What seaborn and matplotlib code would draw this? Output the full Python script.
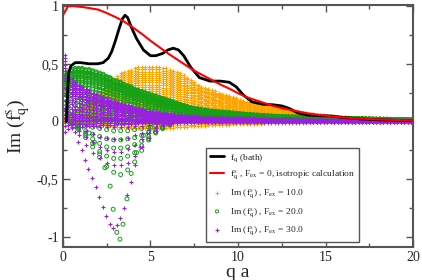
import matplotlib
matplotlib.use("Agg")
import matplotlib.pyplot as plt
from matplotlib.ticker import FuncFormatter, MultipleLocator
import numpy as np
import pandas as pd
import seaborn as sns

# black curve: f_q of the bath
bath_q = [0.2, 0.27, 0.33, 0.45, 0.7, 1.0, 1.5, 2.0, 2.3, 2.6, 2.8, 3.0, 3.2, 3.4, 3.55,
          3.7, 3.9, 4.2, 4.6, 5.0, 5.3, 5.7, 6.0, 6.3, 6.6, 6.9, 7.3, 7.8, 8.4, 9.0, 9.5,
          9.9, 10.3, 10.8, 11.4, 12.0, 12.5, 12.9, 13.4, 14.0, 14.6, 15.3, 16.0, 17.0,
          18.0, 19.0, 20.0]
bath_f = [0.0, 0.25, 0.42, 0.48, 0.51, 0.51, 0.50, 0.50, 0.51, 0.55, 0.61, 0.70, 0.80,
          0.89, 0.92, 0.90, 0.82, 0.72, 0.62, 0.57, 0.57, 0.59, 0.62, 0.635, 0.62, 0.57,
          0.47, 0.38, 0.35, 0.35, 0.34, 0.30, 0.23, 0.17, 0.15, 0.145, 0.135, 0.115, 0.075,
          0.055, 0.05, 0.048, 0.035, 0.022, 0.015, 0.01, 0.008]

# red curve: isotropic calculation, F_ex = 0
iso_q = [0.0, 0.15, 0.3, 0.6, 1.2, 2.0, 2.5, 3.0, 3.5, 4.0, 4.5, 5.0, 5.5, 6.0, 6.5, 7.0,
         7.5, 8.0, 8.5, 9.0, 9.5, 10.0, 10.5, 11.0, 11.5, 12.0, 12.5, 13.0, 13.5, 14.0,
         15.0, 16.0, 17.0, 18.0, 19.0, 20.0]
iso_f = [0.92, 0.96, 1.0, 1.0, 0.99, 0.97, 0.94, 0.905, 0.865, 0.815, 0.76, 0.70, 0.645,
         0.59, 0.54, 0.49, 0.44, 0.40, 0.36, 0.32, 0.285, 0.245, 0.21, 0.185, 0.16, 0.135,
         0.115, 0.10, 0.085, 0.07, 0.05, 0.035, 0.025, 0.018, 0.013, 0.01]

# upper edge of each column of points, columns at q = 0.1, 0.3, ..., 19.9
top_f10 = [0.04, 0.06, 0.08, 0.10, 0.12, 0.14, 0.16, 0.18, 0.20, 0.22,
           0.25, 0.27, 0.30, 0.33, 0.36, 0.39, 0.42, 0.43, 0.44, 0.45,
           0.46, 0.47, 0.47, 0.47, 0.47, 0.47, 0.47, 0.47, 0.46, 0.46,
           0.45, 0.44, 0.43, 0.42, 0.40, 0.38, 0.36, 0.34, 0.32, 0.30,
           0.29, 0.28, 0.27, 0.26, 0.25, 0.24, 0.23, 0.22, 0.21, 0.20,
           0.19, 0.18, 0.17, 0.165, 0.16, 0.15, 0.145, 0.14, 0.13, 0.125,
           0.12, 0.11, 0.105, 0.10, 0.095, 0.09, 0.085, 0.08, 0.075, 0.07,
           0.067, 0.064, 0.06, 0.057, 0.054, 0.05, 0.048, 0.045, 0.043, 0.04,
           0.038, 0.036, 0.034, 0.032, 0.03, 0.028, 0.026, 0.025, 0.024, 0.022,
           0.021, 0.02, 0.019, 0.018, 0.017, 0.016, 0.015, 0.014, 0.013, 0.012]
top_f20 = [0.40, 0.43, 0.45, 0.46, 0.46, 0.46, 0.45, 0.45, 0.44, 0.43,
           0.42, 0.41, 0.39, 0.38, 0.36, 0.35, 0.34, 0.32, 0.31, 0.30,
           0.28, 0.27, 0.26, 0.25, 0.24, 0.23, 0.22, 0.21, 0.20, 0.19,
           0.18, 0.17, 0.16, 0.15, 0.14, 0.13, 0.12, 0.115, 0.11, 0.105,
           0.10, 0.095, 0.09, 0.088, 0.085, 0.082, 0.08, 0.077, 0.074, 0.071,
           0.068, 0.065, 0.062, 0.06, 0.058, 0.056, 0.054, 0.052, 0.05, 0.048,
           0.046, 0.044, 0.043, 0.042, 0.041, 0.04, 0.039, 0.038, 0.037, 0.036,
           0.035, 0.034, 0.033, 0.032, 0.031, 0.03, 0.03, 0.029, 0.029, 0.028,
           0.027, 0.027, 0.026, 0.025, 0.025, 0.024, 0.023, 0.023, 0.022, 0.021,
           0.021, 0.02, 0.02, 0.019, 0.018, 0.018, 0.017, 0.016, 0.016, 0.015]
top_f30 = [0.58, 0.42, 0.37, 0.34, 0.32, 0.30, 0.28, 0.27, 0.25, 0.24,
           0.22, 0.21, 0.20, 0.19, 0.18, 0.17, 0.16, 0.15, 0.14, 0.13,
           0.12, 0.115, 0.11, 0.10, 0.095, 0.09, 0.085, 0.08, 0.075, 0.07,
           0.066, 0.062, 0.058, 0.055, 0.052, 0.05, 0.048, 0.046, 0.044, 0.042,
           0.04, 0.039, 0.038, 0.037, 0.036, 0.035, 0.034, 0.033, 0.032, 0.031,
           0.03, 0.03, 0.029, 0.028, 0.028, 0.027, 0.026, 0.026, 0.025, 0.025,
           0.024, 0.023, 0.023, 0.022, 0.022, 0.021, 0.021, 0.02, 0.02, 0.019,
           0.019, 0.018, 0.018, 0.017, 0.017, 0.016, 0.016, 0.015, 0.015, 0.015,
           0.014, 0.014, 0.014, 0.013, 0.013, 0.013, 0.012, 0.012, 0.012, 0.011,
           0.011, 0.011, 0.011, 0.01, 0.01, 0.01, 0.01, 0.01, 0.01, 0.01]

# share of the column top reached by the different force directions
frac_f10 = [-0.12, -0.08, -0.04, 0.0, 0.04, 0.08, 0.12, 0.16, 0.2, 0.24, 0.28, 0.32,
            0.36, 0.4, 0.44, 0.48, 0.52, 0.56, 0.6, 0.64, 0.68, 0.72, 0.76, 0.8, 0.84,
            0.88, 0.92, 0.96, 1.0]
frac_f20 = [0.0, 0.1, 0.2, 0.3, 0.4, 0.5, 0.58, 0.64, 0.7, 0.74, 0.78, 0.81, 0.84,
            0.87, 0.9, 0.93, 0.96, 0.98, 1.0]
frac_f30 = [-0.15, -0.07, 0.0, 0.05, 0.1, 0.15, 0.2, 0.3, 0.4, 0.5, 0.6, 0.65, 0.7,
            0.75, 0.8, 0.85, 0.9, 0.95, 1.0]

# negative branches
arc_q = [0.5, 0.9, 1.3, 1.7, 2.1, 2.5, 2.9, 3.3, 3.7, 4.1, 4.5, 4.9, 5.3, 5.7, 6.1]
g_arc1 = [-0.01, -0.02, -0.04, -0.05, -0.06, -0.07, -0.08, -0.08, -0.08, -0.07, -0.06, -0.05, -0.04, -0.03, -0.02]
g_arc2 = [-0.01, -0.04, -0.08, -0.11, -0.13, -0.15, -0.16, -0.16, -0.15, -0.14, -0.12, -0.09, -0.07, -0.05, -0.03]
g_arc3 = [-0.02, -0.05, -0.10, -0.15, -0.19, -0.22, -0.23, -0.23, -0.22, -0.20, -0.17, -0.13, -0.09, -0.06, -0.03]
g_arc4 = [-0.02, -0.06, -0.12, -0.19, -0.26, -0.30, -0.32, -0.32, -0.30, -0.27, -0.21, -0.15, -0.10, -0.06, -0.03]
g_arc5 = [-0.02, -0.07, -0.14, -0.22, -0.31, -0.39, -0.44, -0.46, -0.42, -0.35, -0.25, -0.16, -0.09, -0.05, -0.02]
p_arc1 = [-0.01, -0.02, -0.03, -0.04, -0.05, -0.05, -0.05, -0.05, -0.05, -0.04, -0.04, -0.03, -0.02, -0.02, -0.01]
p_arc2 = [-0.02, -0.05, -0.08, -0.11, -0.13, -0.14, -0.15, -0.15, -0.14, -0.12, -0.10, -0.07, -0.05, -0.03, -0.02]
p_arc3 = [-0.03, -0.08, -0.13, -0.18, -0.22, -0.25, -0.26, -0.26, -0.24, -0.20, -0.15, -0.10, -0.06, -0.03, -0.02]
p_arc4 = [-0.05, -0.12, -0.20, -0.27, -0.32, -0.36, -0.38, -0.38, -0.36, -0.30, -0.22, -0.14, -0.08, -0.04, -0.02]
g_deep_q = [1.5, 1.8, 2.1, 2.4, 2.7, 2.87, 3.08, 3.26, 3.43, 3.66, 3.9, 4.2, 4.6, 5.0]
g_deep_v = [-0.10, -0.18, -0.28, -0.40, -0.56, -0.76, -0.96, -1.02, -0.89, -0.67, -0.45, -0.27, -0.12, -0.05]
p_deep_q = [0.5, 0.69, 0.86, 1.09, 1.26, 1.43, 1.66, 1.9, 2.06, 2.29, 2.46, 2.69, 2.86,
            3.08, 3.26, 3.49, 3.66, 3.89, 4.1, 4.4, 4.8]
p_deep_v = [-0.03, -0.09, -0.18, -0.25, -0.33, -0.41, -0.49, -0.57, -0.65, -0.74, -0.82,
            -0.89, -0.92, -0.90, -0.84, -0.75, -0.64, -0.52, -0.38, -0.22, -0.10]

x_ticks = [0, 5, 10, 15, 20]
y_ticks = [-1, -0.5, 0, 0.5, 1]


def columns(top, fracs):
    q = 0.1 + 0.2 * np.arange(len(top))
    qq, ff = np.meshgrid(q, fracs)
    vals = ff * np.tile(top, (len(fracs), 1))
    return pd.DataFrame({"q": qq.ravel(), "im": vals.ravel()})


def branches(q, arcs, extra_q, extra_v):
    frames = [pd.DataFrame({"q": q, "im": a}) for a in arcs]
    frames.append(pd.DataFrame({"q": extra_q, "im": extra_v}))
    return pd.concat(frames, ignore_index=True)


def main() -> None:
    sns.set_style("ticks")
    plt.rcParams["font.family"] = ["Liberation Serif", "DejaVu Serif"]
    plt.rcParams["mathtext.fontset"] = "stix"

    df10 = columns(top_f10, frac_f10)
    df20 = pd.concat([columns(top_f20, frac_f20),
                      branches(arc_q, [g_arc1, g_arc2, g_arc3, g_arc4, g_arc5], g_deep_q, g_deep_v)],
                     ignore_index=True)
    df30 = pd.concat([columns(top_f30, frac_f30),
                      branches(arc_q, [p_arc1, p_arc2, p_arc3, p_arc4], p_deep_q, p_deep_v)],
                     ignore_index=True)

    fig = plt.figure(figsize=(4.22, 2.80), dpi=100)
    ax = fig.add_axes([0.149, 0.118, 0.830, 0.864])

    lab_bath = r"f$_{\mathrm{q}}$ (bath)"
    lab_iso = r"f$^{\mathrm{s}}_{\mathrm{q}}$ , F$_{\mathrm{ex}}$ = 0, isotropic calculation"
    lab = r"Im (f$^{\mathrm{s}}_{\mathrm{q}}$) , F$_{\mathrm{ex}}$ = "

    sns.lineplot(x=bath_q, y=bath_f, color="black", lw=2.0, label=lab_bath, ax=ax,
                 estimator=None, sort=False, zorder=6)
    sns.lineplot(x=iso_q, y=iso_f, color="#ff0000", lw=1.5, label=lab_iso, ax=ax,
                 estimator=None, sort=False, zorder=7)
    sns.scatterplot(data=df10, x="q", y="im", marker="+", s=9, linewidth=0.8,
                    color="#ffa500", label=lab + "10.0", ax=ax, zorder=2)
    sns.scatterplot(data=df20, x="q", y="im", marker="o", s=8, linewidth=0.7,
                    facecolor="none", edgecolor="#16a016", color="#16a016",
                    label=lab + "20.0", ax=ax, zorder=3)
    sns.scatterplot(data=df30, x="q", y="im", marker="+", s=10, linewidth=0.8,
                    color="#9a1fe0", label=lab + "30.0", ax=ax, zorder=4)

    ax.set_xlim(0, 20)
    ax.set_ylim(-1.087, 1.009)
    ax.set_xticks(x_ticks)
    ax.set_yticks(y_ticks)
    ax.xaxis.set_minor_locator(MultipleLocator(2.5))
    ax.yaxis.set_minor_locator(MultipleLocator(0.25))
    comma = FuncFormatter(lambda v, p: ("%g" % v).replace(".", ","))
    ax.xaxis.set_major_formatter(comma)
    ax.yaxis.set_major_formatter(comma)
    ax.tick_params(which="both", direction="in", top=True, right=True,
                   color="#555555", width=1.0, labelsize=10, pad=3)
    ax.tick_params(which="major", length=5)
    ax.tick_params(which="minor", length=3)
    for sp in ax.spines.values():
        sp.set_color("#555555")
        sp.set_linewidth(1.5)

    ax.set_xlabel("q a", fontsize=14)
    ax.set_ylabel(r"Im (f$^{\mathrm{s}}_{\mathrm{q}}$)", fontsize=14)
    ax.xaxis.set_label_coords(0.5, -0.07)
    ax.yaxis.set_label_coords(-0.088, 0.5)

    leg = ax.legend(loc="lower left", bbox_to_anchor=(0.409, 0.021), borderaxespad=0,
                    fontsize=6.8, frameon=True, fancybox=False, framealpha=1,
                    edgecolor="#555555", scatterpoints=1, handlelength=1.5,
                    handletextpad=0.6, labelspacing=0.55, borderpad=0.4)
    leg.get_frame().set_linewidth(1.0)
    for h in leg.legend_handles[2:]:
        h.set_sizes([5])

    fig.savefig("out.png", dpi=100)
    plt.close(fig)


if __name__ == "__main__":
    main()
